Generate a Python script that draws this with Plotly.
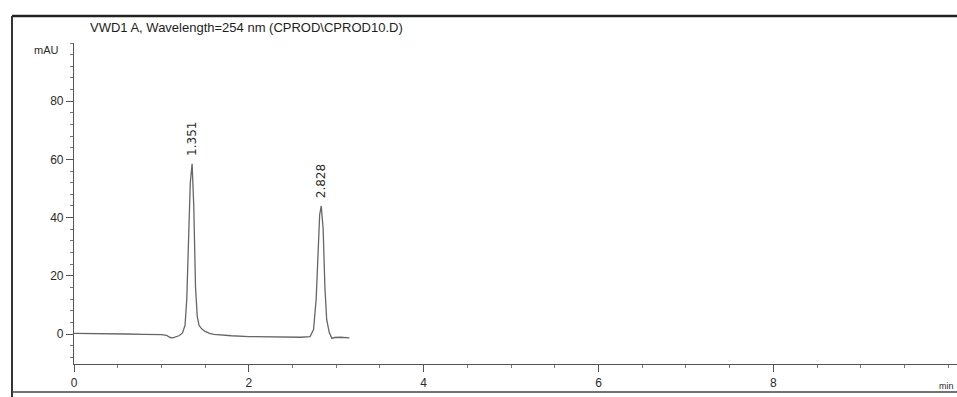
import plotly.graph_objects as go

# Chromatogram trace (time in min, signal in mAU)
time_min = [0.00, 0.20, 0.40, 0.60, 0.80, 1.00, 1.06, 1.10, 1.13, 1.16, 1.20, 1.24,
            1.27, 1.29, 1.31, 1.33, 1.351, 1.37, 1.39, 1.41, 1.43, 1.46, 1.50,
            1.55, 1.60, 1.70, 1.80, 2.00, 2.20, 2.40, 2.60, 2.70, 2.74, 2.77,
            2.79, 2.81, 2.828, 2.85, 2.87, 2.89, 2.92, 2.95, 2.98, 3.05, 3.15]
signal_mau = [0.2, 0.2, 0.1, 0.0, -0.1, -0.2, -0.5, -1.2, -1.3, -0.9, -0.6, 0.3,
              3.0, 12.0, 33.0, 52.0, 58.5, 44.0, 16.0, 6.0, 3.0, 1.8, 0.9,
              0.2, -0.1, -0.4, -0.6, -0.9, -1.0, -1.1, -1.1, -0.9, 1.5, 12.0,
              30.0, 41.0, 44.0, 36.0, 16.0, 5.0, 0.5, -1.5, -1.2, -1.1, -1.3]

peak_times = [1.351, 2.828]
peak_heights = [58.5, 44.0]
peak_labels = ["1.351", "2.828"]

x_ticks = [0, 2, 4, 6, 8]
y_ticks = [0, 20, 40, 60, 80]

title_text = "VWD1 A, Wavelength=254 nm (CPROD\\CPROD10.D)"
y_unit = "mAU"
x_unit = "min"

ink = "#2b2b2b"
font_family = "Liberation Sans, Arial, sans-serif"

fig = go.Figure()
fig.add_trace(go.Scatter(x=time_min, y=signal_mau, mode="lines",
                         line=dict(color="#666666", width=1.3),
                         hoverinfo="skip", showlegend=False))

for t, h, lab in zip(peak_times, peak_heights, peak_labels):
    fig.add_annotation(x=t, y=h, text=lab, textangle=-90, showarrow=False,
                       xanchor="center", yanchor="bottom", yshift=6,
                       font=dict(family="DejaVu Sans, sans-serif", size=12, color=ink))

fig.add_annotation(xref="paper", yref="paper", x=(88 - 74) / 883, y=(364 - 27) / 321,
                   text=title_text, showarrow=False, xanchor="left", yanchor="middle",
                   font=dict(family="Liberation Sans Narrow, Arial Narrow, sans-serif",
                             size=13, color="#1e1e1e"))
fig.add_annotation(xref="paper", yref="paper", x=(46 - 74) / 883, y=(364 - 50) / 321,
                   text=y_unit, showarrow=False, xanchor="center", yanchor="middle",
                   font=dict(family=font_family, size=11, color=ink))
fig.add_annotation(xref="paper", yref="paper", x=(956 - 74) / 883, y=(364 - 386) / 321,
                   text=x_unit, showarrow=False, xanchor="right", yanchor="middle",
                   font=dict(family=font_family, size=9, color=ink))

# outer frame of the printout
fig.add_shape(type="line", xref="paper", yref="paper",
              x0=(12 - 74) / 883, x1=1.01, y0=(364 - 16) / 321, y1=(364 - 16) / 321,
              line=dict(color="#222222", width=2.5))
fig.add_shape(type="line", xref="paper", yref="paper",
              x0=(12 - 74) / 883, x1=(12 - 74) / 883, y0=(364 - 16) / 321, y1=-0.12,
              line=dict(color="#333333", width=2))
fig.add_shape(type="line", xref="paper", yref="paper",
              x0=(12 - 74) / 883, x1=1.01, y0=(364 - 392) / 321, y1=(364 - 392) / 321,
              line=dict(color="#444444", width=1.5))

fig.update_layout(
    width=957, height=397,
    margin=dict(l=74, r=0, t=43, b=33),
    paper_bgcolor="white", plot_bgcolor="white",
    font=dict(family=font_family, size=12, color=ink),
    xaxis=dict(range=[0, 10.1], tickvals=x_ticks, ticktext=[str(v) for v in x_ticks],
               showgrid=False, zeroline=False, showline=True, linecolor="#555555",
               linewidth=1.2, ticks="outside", ticklen=7, tickcolor="#555555",
               tickfont=dict(size=12, color=ink),
               minor=dict(dtick=0.5, ticks="outside", ticklen=3, tickcolor="#777777")),
    yaxis=dict(range=[-10.3, 100], tickvals=y_ticks, ticktext=[str(v) for v in y_ticks],
               showgrid=False, zeroline=False, showline=True, linecolor="#555555",
               linewidth=1.2, ticks="outside", ticklen=7, tickcolor="#555555",
               tickfont=dict(size=12, color=ink),
               minor=dict(dtick=4, ticks="outside", ticklen=3, tickcolor="#777777")),
)

fig.write_html("out.html", config={"displayModeBar": False},
               post_script="document.body.style.margin='0';")
